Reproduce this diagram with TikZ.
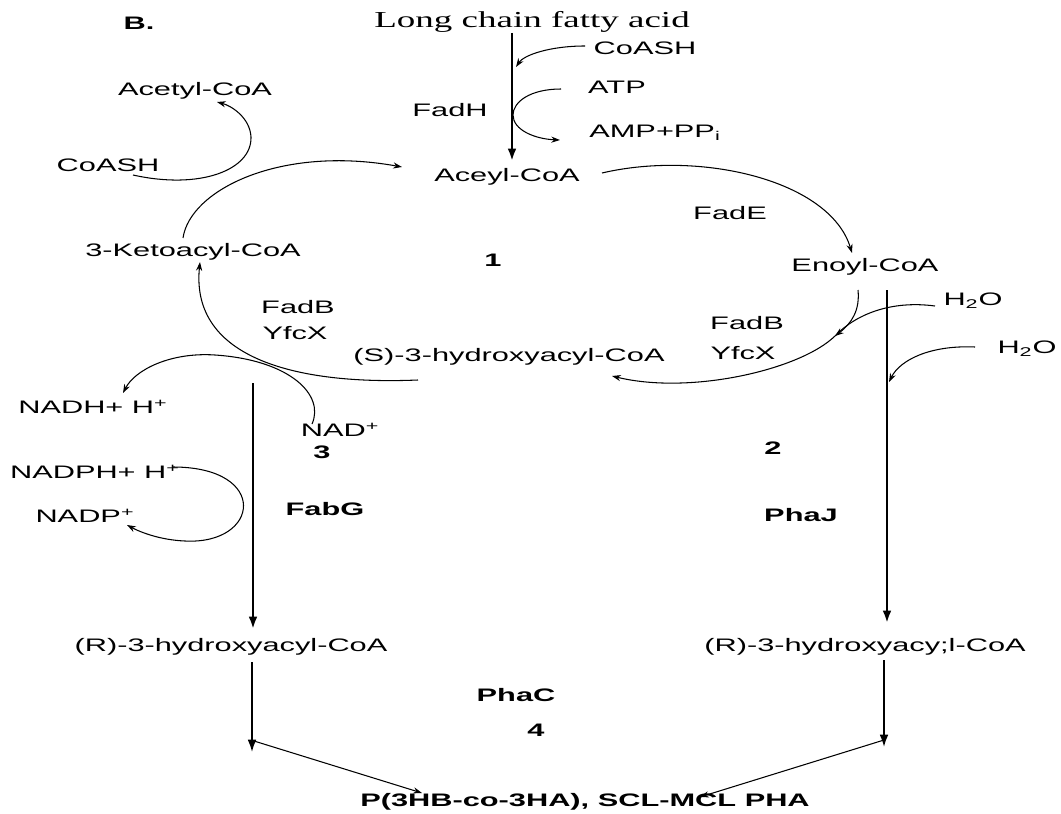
\documentclass[tikz,border=0pt]{standalone}
\usepackage{fontspec}
\setmainfont[FakeStretch=1.7]{Liberation Sans}
\newfontfamily\acidfont[FakeStretch=1.62]{Liberation Serif}
\usetikzlibrary{arrows.meta}

\begin{document}
\begin{tikzpicture}[
  x=0.02cm, y=-0.02cm,
  every node/.style={font=\fontsize{10.3}{12}\selectfont, inner sep=1pt},
  tag/.style={font=\fontsize{10.3}{12}\selectfont\bfseries},
  mainarrow/.style={-{Latex[length=7pt,width=5pt]}, line width=1.4pt},
  sidearrow/.style={-{Stealth[length=5pt,width=3.5pt]}, line width=0.6pt},
]
  \useasboundingbox (0,0) rectangle (1061,814);

  % Entry: long chain fatty acid
  \node[tag] (B) at (139,23) {B.};
  \node[font=\acidfont\fontsize{13}{15}\selectfont] (acid) at (532,22) {Long chain fatty acid};
  \node (coash1) at (645,48) {CoASH};
  \node (atp) at (617,87) {ATP};
  \node (amp) at (655,133) {AMP+PP\textsubscript{i}};
  \node (fadH) at (450,110) {FadH};
  \node (aceyl) at (507,177) {Aceyl-CoA};

  % beta-oxidation cycle
  \node (acetyl) at (195,91) {Acetyl-CoA};
  \node (coash2) at (108,165) {CoASH};
  \node (keto) at (193,252) {3-Ketoacyl-CoA};
  \node[tag] (one) at (493,260) {1};
  \node (fadE) at (730,213) {FadE};
  \node (enoyl) at (865,267) {Enoyl-CoA};
  \node (fadBl) at (298,307) {FadB};
  \node (yfcXl) at (295,333) {YfcX};
  \node (shydroxy) at (509,357) {(S)-3-hydroxyacyl-CoA};
  \node (fadBr) at (747,323) {FadB};
  \node (yfcXr) at (743,353) {YfcX};
  \node (water1) at (973,301) {H\textsubscript{2}O};
  \node (water2) at (1027,349) {H\textsubscript{2}O};

  % left branch (FabG)
  \node (nadh) at (93,407) {NADH+ H\textsuperscript{+}};
  \node (nad) at (340,430) {NAD\textsuperscript{+}};
  \node[tag] (three) at (322,452) {3};
  \node (nadph) at (95,472) {NADPH+ H\textsuperscript{+}};
  \node (nadp) at (85,516) {NADP\textsuperscript{+}};
  \node[tag] (fabG) at (325,509) {FabG};
  \node (rleft) at (231,647) {(R)-3-hydroxyacyl-CoA};

  % right branch (PhaJ)
  \node[tag] (two) at (773,448) {2};
  \node[tag] (phaJ) at (801,515) {PhaJ};
  \node (rright) at (865,647) {(R)-3-hydroxyacy;l-CoA};

  % polymer
  \node[tag] (phaC) at (516,695) {PhaC};
  \node[tag] (four) at (536,730) {4};
  \node[tag] (pha) at (585,802) {P(3HB-co-3HA), SCL-MCL PHA};

  % anchor points on the long arrows
  \coordinate (fadHtop) at (512,33);
  \coordinate (fadHend) at (512,161);
  \coordinate (fabGtop) at (253,383);
  \coordinate (fabGend) at (253,629);
  \coordinate (phaJtop) at (887,290);
  \coordinate (phaJend) at (887,623);
  \coordinate (leftdown) at (252,662);
  \coordinate (leftjoin) at (252,752);
  \coordinate (rightdown) at (884,660);
  \coordinate (rightjoin) at (884,747);
  \coordinate (hydmeet) at (835,336);

  % straight arrows
  \draw[mainarrow] (fadHtop) -- (fadHend);
  \draw[mainarrow] (fabGtop) -- (fabGend);
  \draw[mainarrow] (phaJtop) -- (phaJend);
  \draw[-{Latex[length=7pt,width=5pt]}, line width=1pt] (leftdown) -- (leftjoin);
  \draw[-{Latex[length=7pt,width=5pt]}, line width=1pt] (rightdown) -- (rightjoin);
  \draw[sidearrow] (254,741) -- (422,793);
  \draw[sidearrow] (884,740) -- (700,797);

  % cofactors on FadH
  \draw[sidearrow] (585,46) .. controls (550,46) and (524,55) .. (516,67);
  \draw[sidearrow] (561,89) .. controls (530,89) and (513,102) .. (513,115)
    .. controls (513,130) and (535,139) .. (560,140);

  % cycle
  \draw[sidearrow] (133,175) .. controls (200,190) and (252,170) .. (251,137)
    .. controls (250,118) and (232,106) .. (217,102);
  \draw[sidearrow] (183,238) .. controls (190,190) and (280,145) .. (402,167);
  \draw[sidearrow] (602,173) .. controls (700,150) and (830,180) .. (852,253);
  \draw[sidearrow] (858,290) .. controls (860,310) and (852,323) .. (hydmeet);
  \draw[sidearrow] (935,306) .. controls (890,300) and (855,315) .. (hydmeet)
    .. controls (800,370) and (690,395) .. (612,376);
  \draw[sidearrow] (418,380) .. controls (300,385) and (190,360) .. (200,262);

  % NAD / NADP
  \draw[sidearrow] (312,424) .. controls (325,395) and (290,360) .. (215,355)
    .. controls (170,352) and (135,370) .. (123,393);
  \draw[sidearrow] (173,467) .. controls (270,467) and (260,545) .. (185,541)
    .. controls (160,540) and (140,532) .. (127,525);

  % water on PhaJ
  \draw[sidearrow] (975,347) .. controls (930,345) and (900,360) .. (889,382);
\end{tikzpicture}
\end{document}
